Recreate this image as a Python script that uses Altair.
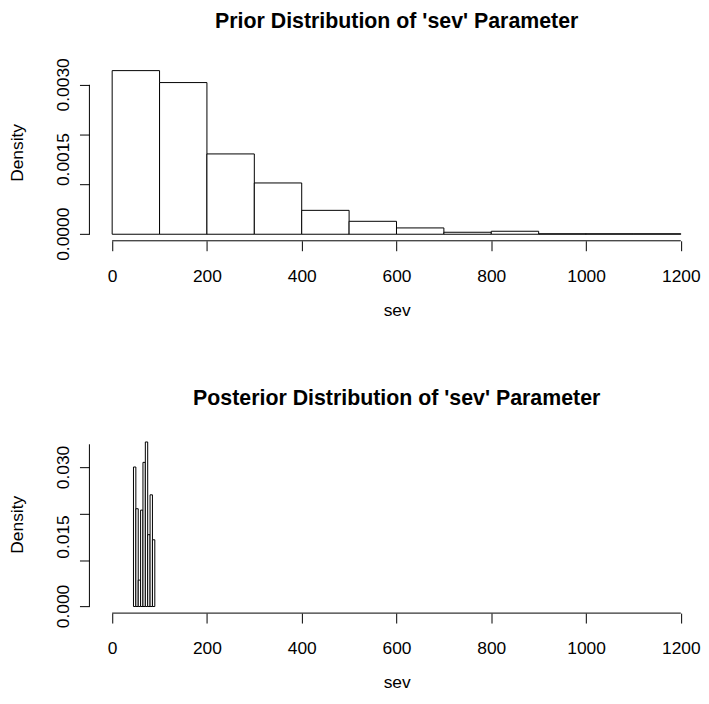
import altair as alt
import pandas as pd

FONT = "Liberation Sans"

# ---- data ----
prior_bin_start = [0, 100, 200, 300, 400, 500, 600, 700, 800, 900, 1000, 1100]
prior_bin_end = [100, 200, 300, 400, 500, 600, 700, 800, 900, 1000, 1100, 1200]
prior_density = [0.003286, 0.003046, 0.001613, 0.00103, 0.00048, 0.00026,
                 0.000127, 0.00004, 0.00006, 0.00001, 0.00001, 0.00001]

post_bin_start = [45, 50, 55, 60, 65, 70, 75, 80, 85]
post_bin_end = [50, 55, 60, 65, 70, 75, 80, 85, 90]
post_density = [0.0301, 0.0211, 0.0057, 0.0208, 0.0311, 0.0355, 0.0155, 0.0241, 0.0144]

x_ticks = [0, 200, 400, 600, 800, 1000, 1200]
prior_y_ticks = [0, 0.0005, 0.001, 0.0015, 0.002, 0.0025, 0.003]
prior_y_label_values = [0, 0.0015, 0.003]
prior_y_label_text = ["0.0000", "0.0015", "0.0030"]
post_y_ticks = [0, 0.005, 0.01, 0.015, 0.02, 0.025, 0.03, 0.035]
post_y_label_values = [0, 0.015, 0.03]
post_y_label_text = ["0.000", "0.015", "0.030"]

titles = ["Prior Distribution of 'sev' Parameter",
          "Posterior Distribution of 'sev' Parameter"]

W = 610
X_DOMAIN = [-48, 1230]
FS = 17.5


def panel(title, starts, ends, dens, yticks, lab_vals, lab_text, height):
    ymax = max(dens)
    pad = 0.04 * ymax
    ydom = [-pad, ymax + pad]
    df = pd.DataFrame({"start": starts, "end": ends, "dens": dens})
    xscale = alt.Scale(domain=X_DOMAIN, nice=False, zero=False)
    yscale = alt.Scale(domain=ydom, nice=False, zero=False)
    xaxis = alt.Axis(values=x_ticks, format="d", title="sev", domain=False, grid=False,
                     tickSize=10, tickColor="black", tickWidth=1,
                     labelFont=FONT, labelFontSize=FS, labelColor="black",
                     labelAlign="center", labelBaseline="alphabetic", labelPadding=31,
                     labelFlush=False, labelOverlap=False,
                     titleFont=FONT, titleFontSize=FS, titleFontWeight="normal",
                     titleColor="black", titleX=309.5, titleY=75,
                     titleAlign="center", titleBaseline="alphabetic")
    yaxis = alt.Axis(values=yticks, title="Density", domain=False, grid=False,
                     tickSize=10, tickColor="black", tickWidth=1, labels=False,
                     titleFont=FONT, titleFontSize=FS, titleFontWeight="normal",
                     titleColor="black", titleAngle=270, titleX=-67.6, titleY=height / 2,
                     titleAlign="center", titleBaseline="alphabetic")
    bars = alt.Chart(df).mark_rect(fill="white", stroke="black", strokeWidth=1).encode(
        x=alt.X("start:Q", scale=xscale, axis=xaxis),
        x2="end:Q",
        y=alt.Y("dens:Q", scale=yscale, axis=yaxis),
        y2=alt.datum(0),
    )
    one = pd.DataFrame({"a": [0]})
    xline = alt.Chart(one).mark_rule(color="black", strokeWidth=1).encode(
        x=alt.datum(x_ticks[0]), x2=alt.datum(x_ticks[-1]), y=alt.value(height)
    )
    yline = alt.Chart(one).mark_rule(color="black", strokeWidth=1).encode(
        y=alt.datum(yticks[0]), y2=alt.datum(yticks[-1]), x=alt.value(0)
    )
    labdf = pd.DataFrame({"v": lab_vals, "t": lab_text})
    ylabels = alt.Chart(labdf).mark_text(
        angle=270, align="center", baseline="alphabetic", font=FONT, fontSize=FS,
        color="black"
    ).encode(y=alt.Y("v:Q"), x=alt.value(-21), text="t:N")
    return alt.layer(bars, xline, yline, ylabels).properties(
        width=W, height=height,
        title=alt.TitleParams(text=title, anchor="middle", frame="group", font=FONT,
                              fontSize=21.5, fontWeight="bold", color="black",
                              baseline="alphabetic", offset=9.5, dx=4.5),
    )


top = panel(titles[0], prior_bin_start, prior_bin_end, prior_density,
            prior_y_ticks, prior_y_label_values, prior_y_label_text, 178)
bottom = panel(titles[1], post_bin_start, post_bin_end, post_density,
               post_y_ticks, post_y_label_values, post_y_label_text, 179)

chart = alt.vconcat(top, bottom, spacing=196, bounds="flush").properties(
    padding={"left": 0, "top": 0, "right": 0, "bottom": 0},
    background="white",
).configure_view(stroke=None)

chart.save("out.html", embed_options={"renderer": "svg", "actions": False})
